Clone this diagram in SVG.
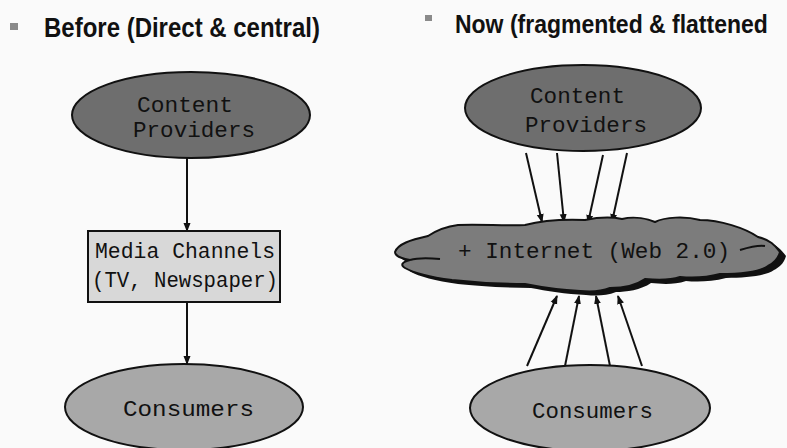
<svg xmlns="http://www.w3.org/2000/svg" width="787" height="448" viewBox="0 0 787 448">
<style>
.title{font-family:"Liberation Sans",Arial,sans-serif;font-weight:bold;fill:#111}
.mono{font-family:"Liberation Mono","Courier New",monospace;font-size:22px;fill:#111}
.edge{stroke:#111;stroke-width:2;fill:none}
.dark{fill:#6e6e6e;stroke:#111;stroke-width:2}
.light{fill:#a8a8a8;stroke:#111;stroke-width:2}
</style>
<defs>
<marker id="ah" markerUnits="userSpaceOnUse" markerWidth="9" markerHeight="8" viewBox="0 0 9 8" refX="8" refY="4" orient="auto">
<path d="M0,0.5 L9,4 L0,7.5 Z" fill="#111"/>
</marker>
</defs>
<rect width="787" height="448" fill="#fafafa"/>
<g id="title-before">
<rect x="10" y="23" width="8" height="7" fill="#8a8a8a"/>
<text class="title" x="44" y="37" font-size="24" transform="translate(44,37) scale(1,1.12) translate(-44,-37)">Before (Direct &amp; central)</text>
</g>
<g id="title-now">
<rect x="425" y="15" width="7" height="6" fill="#8a8a8a"/>
<text class="title" x="455" y="33" font-size="23" transform="translate(455,33) scale(1,1.1) translate(-455,-33)">Now (fragmented &amp; flattened</text>
</g>
<g id="connectors">
<line class="edge" x1="187" y1="158" x2="187" y2="231" marker-end="url(#ah)"/>
<line class="edge" x1="187" y1="302" x2="187" y2="364" marker-end="url(#ah)"/>
<line class="edge" x1="526" y1="153" x2="542" y2="222" marker-end="url(#ah)"/>
<line class="edge" x1="557" y1="153" x2="564" y2="222" marker-end="url(#ah)"/>
<line class="edge" x1="603" y1="155" x2="588" y2="223" marker-end="url(#ah)"/>
<line class="edge" x1="627" y1="153" x2="612" y2="222" marker-end="url(#ah)"/>
<line class="edge" x1="527" y1="366" x2="557" y2="296" marker-end="url(#ah)"/>
<line class="edge" x1="565" y1="366" x2="579" y2="296" marker-end="url(#ah)"/>
<line class="edge" x1="610" y1="366" x2="596" y2="296" marker-end="url(#ah)"/>
<line class="edge" x1="642" y1="366" x2="618" y2="296" marker-end="url(#ah)"/>
</g>
<g id="content-providers-left">
<ellipse class="dark" cx="191" cy="115" rx="119" ry="43"/>
<text class="mono" x="137" y="112" textLength="96" lengthAdjust="spacingAndGlyphs">Content</text>
<text class="mono" x="133" y="137" textLength="122" lengthAdjust="spacingAndGlyphs">Providers</text>
</g>
<g id="media-channels">
<rect x="88" y="231" width="192" height="71" fill="#d8d8d8" stroke="#111" stroke-width="2"/>
<text class="mono" x="95" y="258" textLength="180" lengthAdjust="spacingAndGlyphs">Media Channels</text>
<text class="mono" x="92" y="287" textLength="186" lengthAdjust="spacingAndGlyphs">(TV, Newspaper)</text>
</g>
<g id="consumers-left">
<ellipse class="light" cx="184" cy="407" rx="119" ry="43"/>
<text class="mono" x="123" y="416" textLength="131" lengthAdjust="spacingAndGlyphs">Consumers</text>
</g>
<g id="content-providers-right">
<ellipse class="dark" cx="583" cy="108" rx="118" ry="43"/>
<text class="mono" x="530" y="103" textLength="95" lengthAdjust="spacingAndGlyphs">Content</text>
<text class="mono" x="525" y="132" textLength="122" lengthAdjust="spacingAndGlyphs">Providers</text>
</g>
<g id="internet-cloud">
<path transform="translate(6,4)" fill="#111" d="M395,252 C398,244 410,240 428,236 C440,228 450,226 458,225 C480,224 505,226 525,225 C540,221 560,219 585,220 C600,217 612,217 622,219 C635,216 648,219 655,222 C665,217 685,216 700,220 C720,220 745,228 758,237 C770,240 775,245 780,252 C778,260 772,264 768,266 C760,272 740,274 720,274 C705,278 690,278 680,277 C668,281 655,280 645,279 C635,286 620,288 610,288 C600,292 590,292 580,291 C560,290 540,287 525,284 C500,284 470,282 452,280 C430,277 412,272 405,268 C400,265 402,262 410,260 C400,258 395,256 395,252 Z"/>
<path fill="#7c7c7c" stroke="#111" stroke-width="2" d="M395,252 C398,244 410,240 428,236 C440,228 450,226 458,225 C480,224 505,226 525,225 C540,221 560,219 585,220 C600,217 612,217 622,219 C635,216 648,219 655,222 C665,217 685,216 700,220 C720,220 745,228 758,237 C770,240 775,245 780,252 C778,260 772,264 768,266 C760,272 740,274 720,274 C705,278 690,278 680,277 C668,281 655,280 645,279 C635,286 620,288 610,288 C600,292 590,292 580,291 C560,290 540,287 525,284 C500,284 470,282 452,280 C430,277 412,272 405,268 C400,265 402,262 410,260 C400,258 395,256 395,252 Z"/>
<path class="edge" stroke-width="1.5" d="M410,260 C420,257 430,258 440,259 M740,250 C750,247 758,245 765,246"/>
<text class="mono" x="458" y="258" textLength="272" lengthAdjust="spacingAndGlyphs">+ Internet (Web 2.0)</text>
</g>
<g id="consumers-right">
<ellipse class="light" cx="590" cy="408" rx="120" ry="43"/>
<text class="mono" x="532" y="418" textLength="121" lengthAdjust="spacingAndGlyphs">Consumers</text>
</g>
</svg>
